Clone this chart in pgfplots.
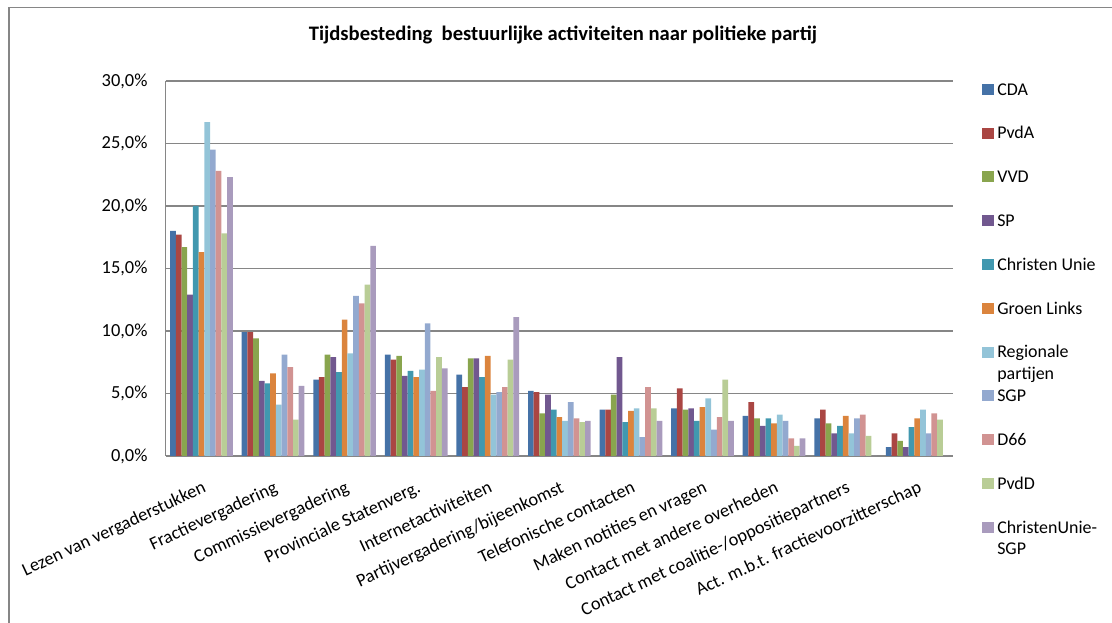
\documentclass[border=0pt]{standalone}
\usepackage{pgfplots}
\pgfplotsset{compat=1.18}
\usepackage{pgfplotstable}
\usepackage{fontspec}
\setmainfont{Carlito}

\definecolor{gridgray}{RGB}{134,134,134}
\definecolor{cCDA}{RGB}{69,114,167}
\definecolor{cPvdA}{RGB}{170,70,67}
\definecolor{cVVD}{RGB}{137,165,78}
\definecolor{cSP}{RGB}{113,88,143}
\definecolor{cCU}{RGB}{65,152,175}
\definecolor{cGL}{RGB}{219,132,61}
\definecolor{cReg}{RGB}{147,196,216}
\definecolor{cSGP}{RGB}{147,169,207}
\definecolor{cD66}{RGB}{209,147,146}
\definecolor{cPvdD}{RGB}{185,205,150}
\definecolor{cCUSGP}{RGB}{169,155,189}

% percentages per activity (rows) and party (columns)
\pgfplotstableread{
x  cda  pvda vvd  sp   cu   gl   reg  sgp  dsix pvdd cusgp
0  18.0 17.7 16.7 12.9 20.0 16.3 26.7 24.5 22.8 17.8 22.3
1  9.9  9.9  9.4  6.0  5.8  6.6  4.1  8.1  7.1  2.9  5.6
2  6.1  6.3  8.1  7.9  6.7  10.9 8.2  12.8 12.2 13.7 16.8
3  8.1  7.7  8.0  6.4  6.8  6.3  6.9  10.6 5.2  7.9  7.0
4  6.5  5.5  7.8  7.8  6.3  8.0  4.9  5.1  5.5  7.7  11.1
5  5.2  5.1  3.4  4.9  3.7  3.1  2.8  4.3  3.0  2.7  2.8
6  3.7  3.7  4.9  7.9  2.7  3.6  3.8  1.5  5.5  3.8  2.8
7  3.8  5.4  3.7  3.8  2.8  3.9  4.6  2.1  3.1  6.1  2.8
8  3.2  4.3  3.0  2.4  3.0  2.6  3.3  2.8  1.4  0.8  1.4
9  3.0  3.7  2.6  1.8  2.4  3.2  1.8  3.0  3.3  1.6  0
10 0.7  1.8  1.2  0.7  2.3  3.0  3.7  1.8  3.4  2.9  0
}\tijd

\begin{document}
\begin{tikzpicture}[x=1bp,y=1bp]
\useasboundingbox (0,0) rectangle (1112,623);
\draw[gridgray, line width=1.2bp] (9,-5) -- (9,615.5) -- (1120,615.5);
\begin{axis}[
    at={(165.7bp,167bp)}, anchor=south west,
    scale only axis, width=787.3bp, height=375bp,
    ybar=0pt, bar width=5.7bp,
    xmin=-0.5, xmax=10.5, ymin=0, ymax=30,
    xtick={0,...,10},
    xticklabels={Lezen van vergaderstukken, Fractievergadering, Commissievergadering,
      Provinciale Statenverg., Internetactiviteiten, Partijvergadering/bijeenkomst,
      Telefonische contacten, Maken notities en vragen, Contact met andere overheden,
      Contact met coalitie-/oppositiepartners, Act. m.b.t. fractievoorzitterschap},
    ytick={0,5,...,30},
    yticklabel={\pgfmathprintnumber[fixed,fixed zerofill,precision=1,use comma]{\tick}\%},
    /pgf/number format/assume math mode=true,
    axis x line*=bottom, axis y line*=left,
    axis line style={-, draw=gridgray, line width=1.2bp},
    ymajorgrids, grid style={draw=gridgray, line width=1.2bp},
    major tick length=0pt, tick style={draw=none},
    yticklabel style={font=\fontsize{18.5}{22}\selectfont, inner sep=0pt, xshift=-18bp},
    xticklabel style={font=\fontsize{18.4}{22}\selectfont, inner sep=0pt, yshift=-24bp, rotate=25, anchor=north east},
    title={Tijdsbesteding\ \ bestuurlijke activiteiten naar politieke partij},
    title style={font=\bfseries\fontsize{20.7}{24}\selectfont, at={(0.5046,1.0907)}, anchor=base},
    every axis plot post/.append style={
      draw=none,
      legend image code/.code={\fill[##1,draw=none] (0bp,-5.5bp) rectangle (12bp,5.5bp);}},
    legend style={at={(1.0369,1.0005)}, anchor=north west, draw=none, fill=none,
      inner sep=0pt, row sep=27.4bp, column sep=3bp,
      font=\fontsize{18}{22}\selectfont,
      nodes={inner sep=0pt, text height=14bp, text depth=2.4bp}},
    legend cell align=left,
]
\addplot[fill=cCDA] table[x=x,y=cda] {\tijd};
\addlegendentry{CDA}
\addplot[fill=cPvdA] table[x=x,y=pvda] {\tijd};
\addlegendentry{PvdA}
\addplot[fill=cVVD] table[x=x,y=vvd] {\tijd};
\addlegendentry{VVD}
\addplot[fill=cSP] table[x=x,y=sp] {\tijd};
\addlegendentry{SP}
\addplot[fill=cCU] table[x=x,y=cu] {\tijd};
\addlegendentry{Christen Unie}
\addplot[fill=cGL] table[x=x,y=gl] {\tijd};
\addlegendentry{Groen Links}
\addplot[fill=cReg] table[x=x,y=reg] {\tijd};
\addlegendentry{{\smash{\begin{tabular}[t]{@{}l@{}}Regionale\\partijen\end{tabular}}}}
\addplot[fill=cSGP] table[x=x,y=sgp] {\tijd};
\addlegendentry{SGP}
\addplot[fill=cD66] table[x=x,y=dsix] {\tijd};
\addlegendentry{D66}
\addplot[fill=cPvdD] table[x=x,y=pvdd] {\tijd};
\addlegendentry{PvdD}
\addplot[fill=cCUSGP] table[x=x,y=cusgp] {\tijd};
\addlegendentry{{\smash{\begin{tabular}[t]{@{}l@{}}ChristenUnie-\\SGP\end{tabular}}}}
\end{axis}
\end{tikzpicture}
\end{document}
